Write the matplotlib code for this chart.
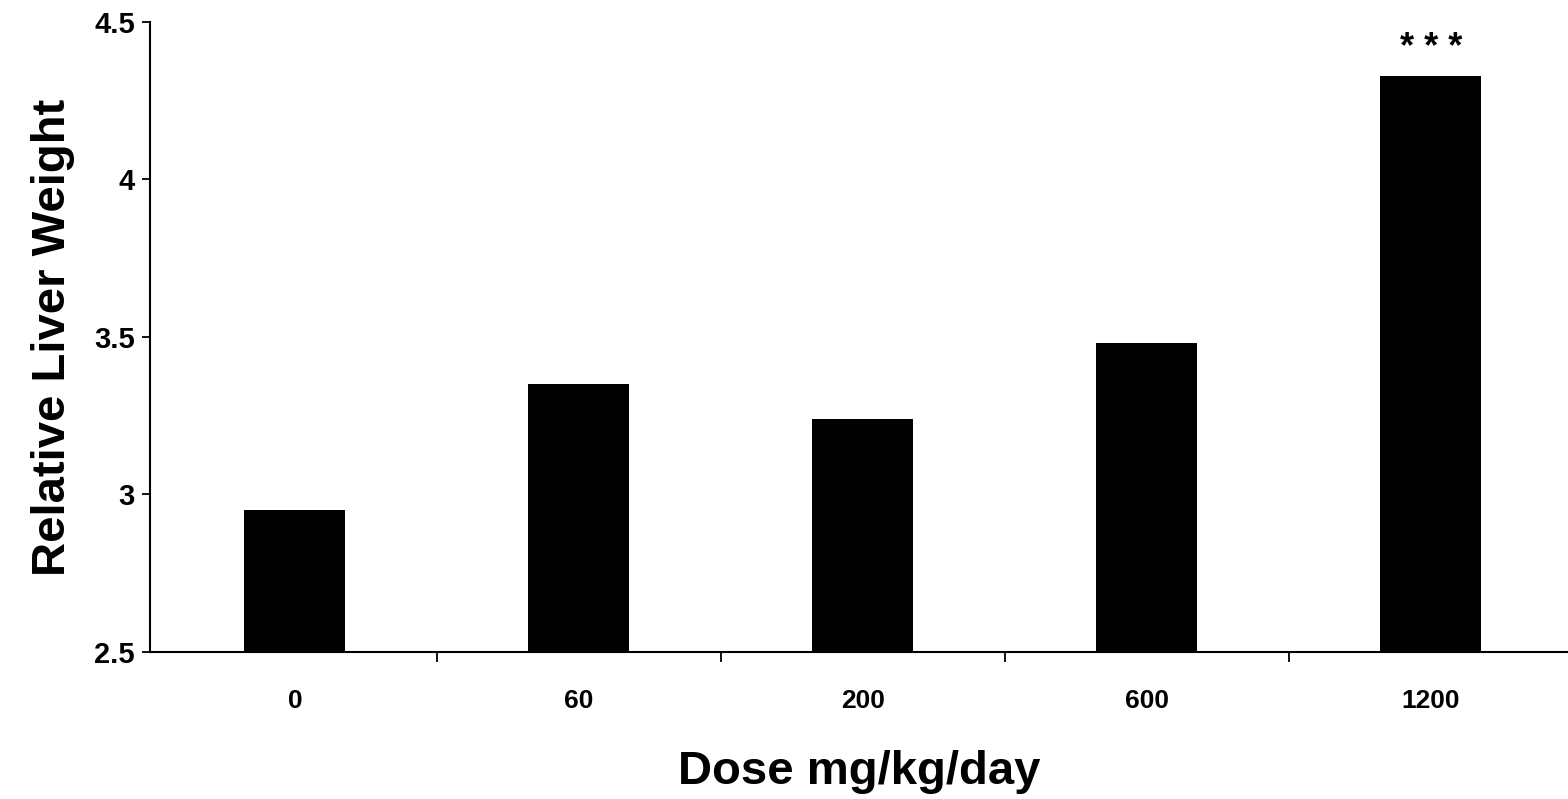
import matplotlib
matplotlib.use("Agg")
import matplotlib.pyplot as plt
import numpy as np

doses = ["0", "60", "200", "600", "1200"]
liver_weight = [2.95, 3.35, 3.24, 3.48, 4.33]
significance = ["", "", "", "", "* * *"]
y_ticks = [2.5, 3, 3.5, 4, 4.5]
y_tick_labels = ["2.5", "3", "3.5", "4", "4.5"]

plt.rcParams["font.family"] = ["Liberation Sans", "DejaVu Sans"]

fig = plt.figure(figsize=(15.68, 7.99), dpi=100)
ax = fig.add_axes([0.0957, 0.184, 0.9043, 0.7885])

x = np.arange(len(doses))
ax.bar(x, liver_weight, width=0.355, color="black")

# significance marks above the bars
for xi, val, sig in zip(x, liver_weight, significance):
    if sig:
        ax.text(xi, val + 0.085, sig, ha="center", va="center", fontsize=26, fontweight="bold")

ax.set_ylim(2.5, 4.5)
ax.set_xlim(-0.51, 4.483)
ax.set_yticks(y_ticks)
ax.set_yticklabels(y_tick_labels, fontsize=21, fontweight="bold")
ax.set_xticks(x)
ax.set_xticklabels(doses, fontsize=19, fontweight="bold")
ax.set_xticks(x[:-1] + 0.5, minor=True)
ax.tick_params(axis="x", which="major", length=0, pad=27)
ax.tick_params(axis="x", which="minor", length=7, width=1.3, direction="out")
ax.tick_params(axis="y", length=6, width=1.3, direction="out", pad=5)

for side in ("top", "right"):
    ax.spines[side].set_visible(False)
for side in ("left", "bottom"):
    ax.spines[side].set_linewidth(1.5)

ax.set_xlabel("Dose mg/kg/day", fontsize=34, fontweight="bold", labelpad=26)
ax.set_ylabel("Relative Liver Weight", fontsize=34, fontweight="bold", labelpad=14)

fig.savefig("out.png", dpi=100, facecolor="white")
